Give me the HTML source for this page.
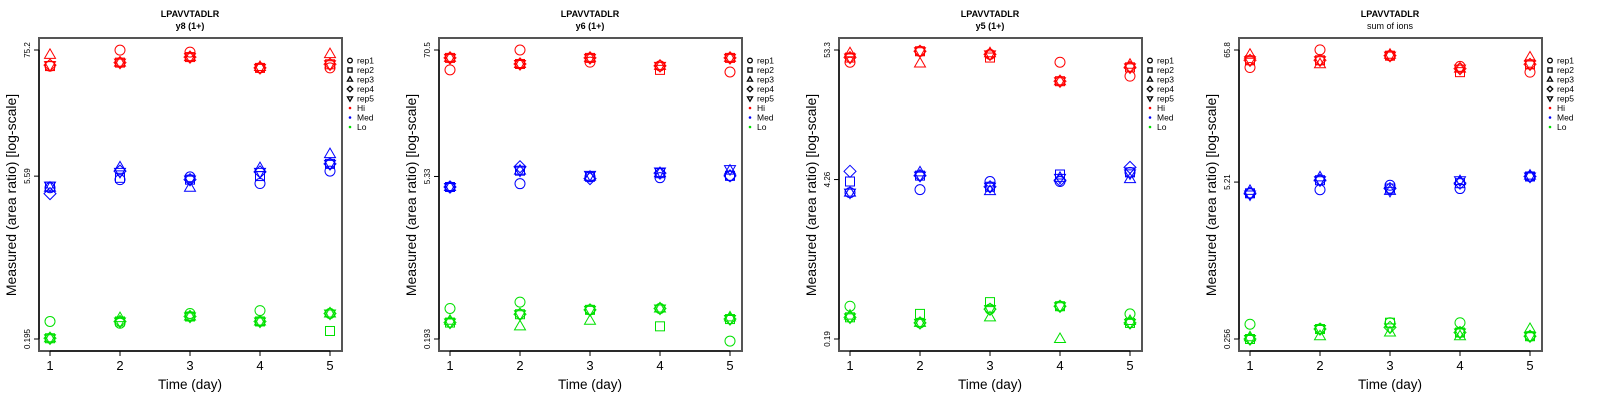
<!DOCTYPE html>
<html><head><meta charset="utf-8"><style>
html,body{margin:0;padding:0;background:#fff;width:1600px;height:400px;overflow:hidden}
svg{display:block;font-family:"Liberation Sans",sans-serif}
</style></head><body>
<svg id="chart" width="1600" height="400" xmlns="http://www.w3.org/2000/svg"></svg>
<script>
const days = [1,2,3,4,5];
const reps = ["rep1","rep2","rep3","rep4","rep5"];
const levels = ["Hi","Med","Lo"];
const levelColors = ["#ff0000","#0000ff","#00e000"];
const titles1 = ["LPAVVTADLR","LPAVVTADLR","LPAVVTADLR","LPAVVTADLR"];
const titles2 = ["y8 (1+)","y6 (1+)","y5 (1+)","sum of ions"];
const yTickLabels = [["0.195","5.59","75.2"],["0.193","5.33","70.5"],["0.19","4.26","53.3"],["0.256","5.21","65.8"]];
const yTickValues = [[0.195,5.59,75.2],[0.193,5.33,70.5],[0.19,4.26,53.3],[0.256,5.21,65.8]];
// values [panel][level][rep][day]
const p1Hi = [[54,75,72,52,52],[54,58,65,52,56],[68,58,65,53,69],[55,58,65,52,56],[55,58,65,52,56]];
const p1Med = [[4.4,5.2,5.5,4.8,6.2],[4.5,5.4,5.2,5.6,7.2],[4.4,6.7,4.4,6.6,8.8],[3.9,6.2,5.2,6.1,7.2],[4.6,6.1,5.2,6.1,7.2]];
const p1Lo = [[0.28,0.27,0.33,0.35,0.33],[0.198,0.28,0.31,0.28,0.23],[0.198,0.3,0.31,0.28,0.33],[0.198,0.28,0.31,0.28,0.33],[0.198,0.28,0.31,0.28,0.33]];
const p2Hi = [[47,70.5,55,51,45],[60,53,60,47,60],[60,53,60,51,60],[60,53,60,51,60],[60,53,60,51,60]];
const p2Med = [[4.3,4.6,5.3,5.2,5.4],[4.3,6.0,5.3,5.7,5.4],[4.3,6.0,5.3,5.7,6.0],[4.3,6.5,5.1,5.7,5.4],[4.3,6.0,5.5,5.9,6.2]];
const p2Lo = [[0.36,0.41,0.35,0.36,0.185],[0.27,0.32,0.35,0.25,0.29],[0.28,0.25,0.28,0.36,0.3],[0.27,0.32,0.35,0.36,0.29],[0.27,0.32,0.35,0.36,0.29]];
const p3Hi = [[42,52,49,42,32],[46,52,46,29,38],[50,41,50,29,40],[46,52,49,29,38],[46,52,49,29,38]];
const p3Med = [[3.3,3.5,4.1,4.1,4.9],[4.1,4.6,3.7,4.7,4.9],[3.3,4.9,3.4,4.4,4.3],[5.0,4.6,3.7,4.2,5.4],[3.3,4.6,3.7,4.4,4.8]];
const p3Lo = [[0.36,0.26,0.34,0.36,0.31],[0.29,0.31,0.39,0.36,0.26],[0.3,0.26,0.29,0.19,0.27],[0.29,0.26,0.34,0.36,0.26],[0.29,0.26,0.34,0.36,0.26]];
const p4Hi = [[47,66,59,48,43],[54,54,59,43,50],[60,50,60,46,57],[54,54,59,46,50],[54,54,59,46,50]];
const p4Med = [[4.2,4.5,4.9,4.6,5.8],[4.2,5.4,4.6,5.1,5.8],[4.4,5.7,4.4,5.3,5.9],[4.2,5.4,4.6,5.1,5.8],[4.1,5.4,4.4,5.4,5.8]];
const p4Lo = [[0.34,0.31,0.35,0.35,0.27],[0.256,0.31,0.35,0.29,0.27],[0.265,0.27,0.29,0.27,0.31],[0.256,0.31,0.32,0.29,0.27],[0.256,0.31,0.32,0.29,0.27]];
const panelData = [[p1Hi,p1Med,p1Lo],[p2Hi,p2Med,p2Lo],[p3Hi,p3Med,p3Lo],[p4Hi,p4Med,p4Lo]];

const NS="http://www.w3.org/2000/svg";
const svg=document.getElementById('chart');
function mk(tag,attrs,parent){const e=document.createElementNS(NS,tag);for(const k in attrs)e.setAttribute(k,attrs[k]);(parent||svg).appendChild(e);return e;}
function marker(g,shape,cx,cy,color,r){
  let e;
  if(shape===0){e=mk('circle',{cx:cx,cy:cy,r:r},g);}
  else if(shape===1){e=mk('rect',{x:cx-r*0.9,y:cy-r*0.9,width:r*1.8,height:r*1.8},g);}
  else if(shape===2){e=mk('polygon',{points:`${cx},${cy-r*1.2} ${cx-r*1.1},${cy+r*0.7} ${cx+r*1.1},${cy+r*0.7}`},g);}
  else if(shape===3){e=mk('polygon',{points:`${cx},${cy-r*1.2} ${cx+r*1.2},${cy} ${cx},${cy+r*1.2} ${cx-r*1.2},${cy}`},g);}
  else {e=mk('polygon',{points:`${cx},${cy+r*1.2} ${cx-r*1.1},${cy-r*0.7} ${cx+r*1.1},${cy-r*0.7}`},g);}
  e.setAttribute('fill','none');e.setAttribute('stroke',color);e.setAttribute('stroke-width',r>3?1:1.3);
  return e;
}
for(let p=0;p<4;p++){
  const ox=p*400;
  const g=mk('g',{});
  
  
  const L=ox+39,R=ox+342,T=38,B=351;
  const xS=d=>ox+50+(d-1)*70;
  const tv=yTickValues[p];
  const lmin=Math.log10(tv[0]),lmax=Math.log10(tv[2]);
  const yS=v=>50+(lmax-Math.log10(v))/(lmax-lmin)*289;
  let t=mk('text',{x:ox+190,y:17,'text-anchor':'middle','font-size':9,'font-weight':'bold'},g);t.textContent=titles1[p];
  
  t=mk('text',{x:ox+190,y:29,'text-anchor':'middle','font-size':9,'font-weight':p===3?'normal':'bold'},g);t.textContent=titles2[p];
  
  // data
  for(let l=0;l<3;l++)for(let r=0;r<5;r++)for(let d=0;d<5;d++){
    const m=marker(g,r,xS(days[d]),yS(panelData[p][l][r][d]),levelColors[l],5);
    
    
  }
  const box=mk('rect',{x:L,y:T,width:R-L,height:B-T,fill:'none',stroke:'#555','stroke-width':2},g);
  
  // x axis
  mk('line',{x1:xS(1),x2:xS(5),y1:B,y2:B,stroke:'#000','stroke-width':1},g);
  for(const d of days){
    mk('line',{x1:xS(d),x2:xS(d),y1:B,y2:B+5,stroke:'#000'},g);
    const tl=mk('text',{x:xS(d),y:370,'text-anchor':'middle','font-size':13},g);tl.textContent=d;
    
  }
  t=mk('text',{x:ox+190,y:389,'text-anchor':'middle','font-size':13.5},g);t.textContent='Time (day)';
  
  // y axis
  mk('line',{x1:L,x2:L,y1:yS(tv[0]),y2:yS(tv[2]),stroke:'#000'},g);
  for(let i=0;i<3;i++){
    const y=yS(tv[i]);
    mk('line',{x1:L-5,x2:L,y1:y,y2:y,stroke:'#000'},g);
    const tl=mk('text',{x:0,y:0,'text-anchor':'middle','font-size':8,transform:`translate(${ox+30},${y}) rotate(-90)`},g);tl.textContent=yTickLabels[p][i];
    
  }
  t=mk('text',{x:0,y:0,'text-anchor':'middle','font-size':14,transform:`translate(${ox+16},195) rotate(-90)`},g);t.textContent='Measured (area ratio) [log-scale]';
  
  // legend
  const lg=mk('g',{},g);
  
  const labels=reps.concat(levels);
  for(let i=0;i<8;i++){
    const y=60.5+i*9.5;
    const e=mk('g',{},lg);
    
    if(i<5) marker(e,i,ox+350,y,'#000',2.3);
    else mk('circle',{cx:ox+350,cy:y,r:1.3,fill:levelColors[i-5]},e);
    const tl=mk('text',{x:ox+357,y:y+3.2,'font-size':8.5},e);tl.textContent=labels[i];
  }
}
</script>
</body></html>
